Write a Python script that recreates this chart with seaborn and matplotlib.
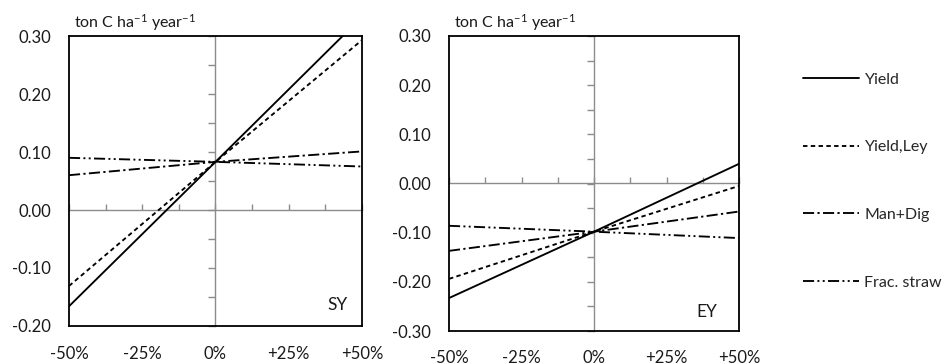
import numpy as np
import pandas as pd
import matplotlib
matplotlib.use("Agg")
import matplotlib.pyplot as plt
import seaborn as sns
from matplotlib.ticker import FormatStrFormatter, FixedLocator, NullFormatter

# ---------------- data ----------------
change = [-50, 0, 50]                       # % change of parameter
series = ["Yield", "Yield,Ley", "Man+Dig", "Frac. straw"]
x_tick_values = [-50, -25, 0, 25, 50]
x_tick_labels = ["-50%", "-25%", "0%", "+25%", "+50%"]

sy_yield = [-0.166, 0.083, 0.333]
sy_yield_ley = [-0.131, 0.083, 0.293]
sy_man_dig = [0.060, 0.083, 0.101]
sy_frac_straw = [0.090, 0.083, 0.075]

ey_yield = [-0.233, -0.098, 0.040]
ey_yield_ley = [-0.194, -0.098, -0.005]
ey_man_dig = [-0.137, -0.098, -0.057]
ey_frac_straw = [-0.086, -0.098, -0.111]

sy_ticks = [0.30, 0.20, 0.10, 0.00, -0.10, -0.20]
ey_ticks = [0.30, 0.20, 0.10, 0.00, -0.10, -0.20, -0.30]


def long_frame(vals):
    rows = []
    for name, v in zip(series, vals):
        for x, y in zip(change, v):
            rows.append({"change": x, "value": y, "series": name})
    return pd.DataFrame(rows)


sy_df = long_frame([sy_yield, sy_yield_ley, sy_man_dig, sy_frac_straw])
ey_df = long_frame([ey_yield, ey_yield_ley, ey_man_dig, ey_frac_straw])

# ---------------- style ----------------
sns.set_style("white")
plt.rcParams["font.family"] = ["Lato", "DejaVu Sans"]
plt.rcParams["mathtext.fontset"] = "custom"
plt.rcParams["mathtext.rm"] = "Lato"
plt.rcParams["mathtext.it"] = "Lato"
plt.rcParams["axes.unicode_minus"] = False
plt.rcParams["lines.scale_dashes"] = False

dash_map = {
    "Yield": "",
    "Yield,Ley": (3.2, 2.4),
    "Man+Dig": (8.0, 2.4, 1.6, 2.4),
    "Frac. straw": (8.0, 2.4, 1.4, 2.4, 1.4, 2.4),
}

W, H = 951, 364
fig = plt.figure(figsize=(W / 100, H / 100), dpi=100)


def rect(x0, x1, ytop, ybot):
    return [x0 / W, 1 - ybot / H, (x1 - x0) / W, (ybot - ytop) / H]


ax1 = fig.add_axes(rect(69, 362, 36, 326))
ax2 = fig.add_axes(rect(449, 739, 36, 331))

gray = "#8c8c8c"
txt = "#1a1a1a"


def draw(ax, df, ylim, yticks, tag, tagpos, xpad):
    sns.lineplot(data=df, x="change", y="value", style="series",
                 style_order=series, dashes=dash_map, color="black",
                 linewidth=1.35, ax=ax, legend="full", sort=False)
    handles, labels = ax.get_legend_handles_labels()
    ax.get_legend().remove()
    ax.set_xlim(-50, 50)
    ax.set_ylim(*ylim)
    ax.set_xlabel("")
    ax.set_ylabel("")
    ax.set_xticks(x_tick_values)
    ax.set_xticklabels(x_tick_labels)
    ax.set_yticks(yticks)
    ax.yaxis.set_major_formatter(FormatStrFormatter("%.2f"))
    ax.tick_params(axis="both", length=0, labelsize=12, colors=txt)
    ax.tick_params(axis="x", pad=xpad)
    ax.tick_params(axis="y", pad=13)
    for sp in ax.spines.values():
        sp.set_visible(True)
        sp.set_color("black")
        sp.set_linewidth(1.3)

    # inner gray axes through zero
    yzero = (0 - ylim[0]) / (ylim[1] - ylim[0])
    sx = ax.secondary_xaxis(yzero)
    sx.set_alignment("top")
    sx.spines["top"].set_color(gray)
    sx.spines["top"].set_linewidth(1.0)
    sx.xaxis.set_major_locator(FixedLocator(np.arange(-50, 50.1, 12.5)))
    sx.xaxis.set_major_formatter(NullFormatter())
    sx.tick_params(axis="x", direction="out", length=4, width=1.0, color=gray)

    sy = ax.secondary_yaxis(0.5)
    sy.set_alignment("left")
    sy.spines["left"].set_color(gray)
    sy.spines["left"].set_linewidth(1.0)
    sy.yaxis.set_major_locator(FixedLocator(np.arange(ylim[0], ylim[1] + 1e-9, 0.05)))
    sy.yaxis.set_major_formatter(NullFormatter())
    sy.tick_params(axis="y", direction="out", length=5, width=1.0, color=gray)

    ax.annotate(r"ton C ha$^{-1}$ year$^{-1}$", xy=(0, 1), xycoords="axes fraction",
                xytext=(5, 8), textcoords="offset pixels", ha="left", va="baseline",
                fontsize=11.5, color=txt)
    ax.text(tagpos[0], tagpos[1], tag, transform=ax.transAxes, ha="center",
            va="center", fontsize=12.5, color=txt)
    return handles, labels


handles, labels = draw(ax1, sy_df, (-0.20, 0.30), sy_ticks, "SY", (0.918, 0.072), 14.5)
draw(ax2, ey_df, (-0.30, 0.30), ey_ticks, "EY", (0.890, 0.064), 13.5)

fig.legend(handles, labels, loc="center left", bbox_to_anchor=(803 / W, 1 - 181 / H),
           frameon=False, fontsize=11.5, handlelength=3.5, handletextpad=0.35,
           labelspacing=3.35, borderpad=0, borderaxespad=0)

fig.savefig("out.png", dpi=100)
